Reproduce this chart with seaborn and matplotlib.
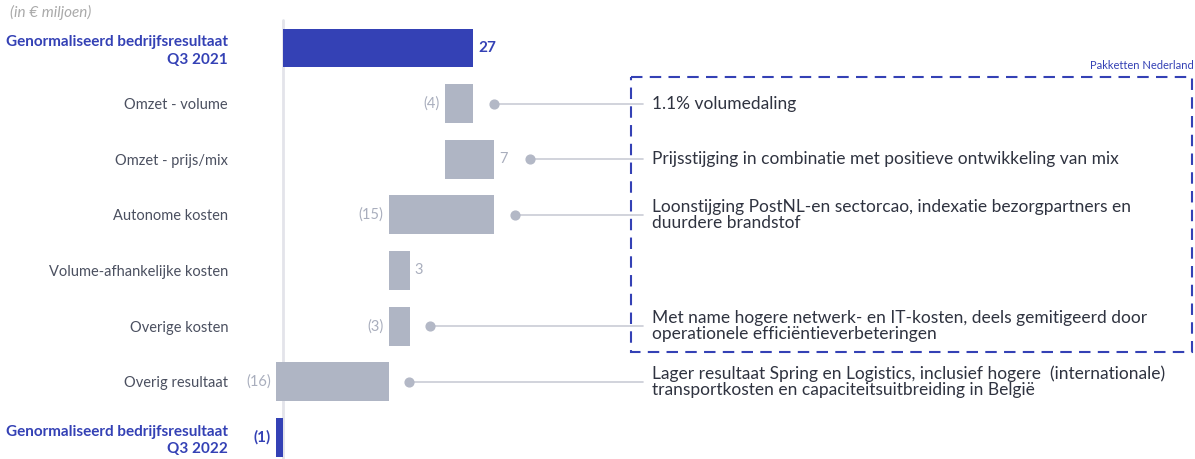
import numpy as np
import pandas as pd
import matplotlib
matplotlib.use("Agg")
import matplotlib.pyplot as plt
from matplotlib.patches import Rectangle
import seaborn as sns

sns.set_theme(style="white")
plt.rcParams['font.family'] = ['Lato', 'DejaVu Sans']

# data
categories = ["Genormaliseerd bedrijfsresultaat\nQ3 2021", "Omzet - volume", "Omzet - prijs/mix",
              "Autonome kosten", "Volume-afhankelijke kosten", "Overige kosten",
              "Overig resultaat", "Genormaliseerd bedrijfsresultaat\nQ3 2022"]
changes = [27, -4, 7, -15, 3, -3, -16, -1]
is_total = [True, False, False, False, False, False, False, True]
value_labels = ["27", "(4)", "7", "(15)", "3", "(3)", "(16)", "(1)"]
notes = ["1.1% volumedaling", "Prijsstijging in combinatie met positieve ontwikkeling van mix",
         "Loonstijging PostNL-en sectorcao, indexatie bezorgpartners en\nduurdere brandstof",
         None, "Met name hogere netwerk- en IT-kosten, deels gemitigeerd door\noperationele efficiëntieverbeteringen",
         "Lager resultaat Spring en Logistics, inclusief hogere  (internationale)\ntransportkosten en capaciteitsuitbreiding in België"]

BLUE = "#3441b5"
GREY = "#afb5c4"
LABEL_GREY = "#a9aebd"
TEXT = "#4b5060"

# waterfall bases
bases = []
running = 0
for c, tot in zip(changes, is_total):
    if tot:
        bases.append(0)
        running = c
    else:
        bases.append(running)
        running += c
df = pd.DataFrame({"category": categories, "change": changes, "base": bases})

fig = plt.figure(figsize=(11.95, 4.59), dpi=100)
ax = fig.add_axes([260 / 1195, 0, 935 / 1195, 1])

sns.barplot(data=df, x="change", y="category", left=df["base"].values, color=GREY,
            width=0.7, errorbar=None, saturation=1, ax=ax, orient="h")
for p, tot in zip(ax.patches, is_total):
    p.set_facecolor(BLUE if tot else GREY)
    p.set_edgecolor("none")

ax.set_xlim(-3.27, 129.5)
ax.set_ylim(7.39, -0.863)
ax.axvline(0, ymin=0, ymax=0.956, color="#e3e4ea", lw=2, zorder=0)

# value labels and connectors
for i, (c, b, tot, lab) in enumerate(zip(changes, bases, is_total, value_labels)):
    lo, hi = min(b, b + c), max(b, b + c)
    col = BLUE if tot else LABEL_GREY
    fw = "bold" if tot else "normal"
    size = 11 if tot else 10.5
    if c >= 0:
        ax.text(hi + 0.7, i, lab, ha="left", va="center", color=col, fontsize=size, fontweight=fw)
    else:
        ax.text(lo - 0.7, i, lab, ha="right", va="center", color=col, fontsize=size, fontweight=fw)

for i, note in enumerate(notes, start=1):
    if note is None:
        continue
    c, b = changes[i], bases[i]
    hi = max(b, b + c)
    dot_x = hi + (5 if c >= 0 else 2.9)
    ax.plot([dot_x, 51.1], [i, i], color="#c9ccd6", lw=1.2, zorder=1)
    ax.scatter([dot_x], [i], s=40, color="#b3b8c6", zorder=2)
    ax.text(52.4, i, note, ha="left", va="center", color="#2f3340", fontsize=12.5,
            linespacing=1.0)

# dashed box for Pakketten Nederland
box = Rectangle((49.4, 0.52), 129.1 - 49.4, 5.47 - 0.52, fill=False, edgecolor=BLUE,
                lw=1.5, linestyle=(0, (5.5, 3.5)), clip_on=False)
ax.add_patch(box)
ax.text(129.3, 0.32, "Pakketten Nederland", ha="right", va="center", color=BLUE, fontsize=8)

ax.set_xlabel("")
ax.set_ylabel("")
ax.set_xticks([])
ax.tick_params(axis="y", length=0, pad=23, labelsize=10.5, labelcolor=TEXT)
for t, tot in zip(ax.get_yticklabels(), is_total):
    if tot:
        t.set_color(BLUE)
        t.set_fontweight("bold")
        t.set_fontsize(11)
        t.set_linespacing(1.3)
sns.despine(ax=ax, left=True, bottom=True)

fig.text(10 / 1195, 1 - 12 / 459, "(in € miljoen)", ha="left", va="center", color="#aaaaaa",
         fontsize=11, style="italic")

fig.savefig("out.png", dpi=100)
